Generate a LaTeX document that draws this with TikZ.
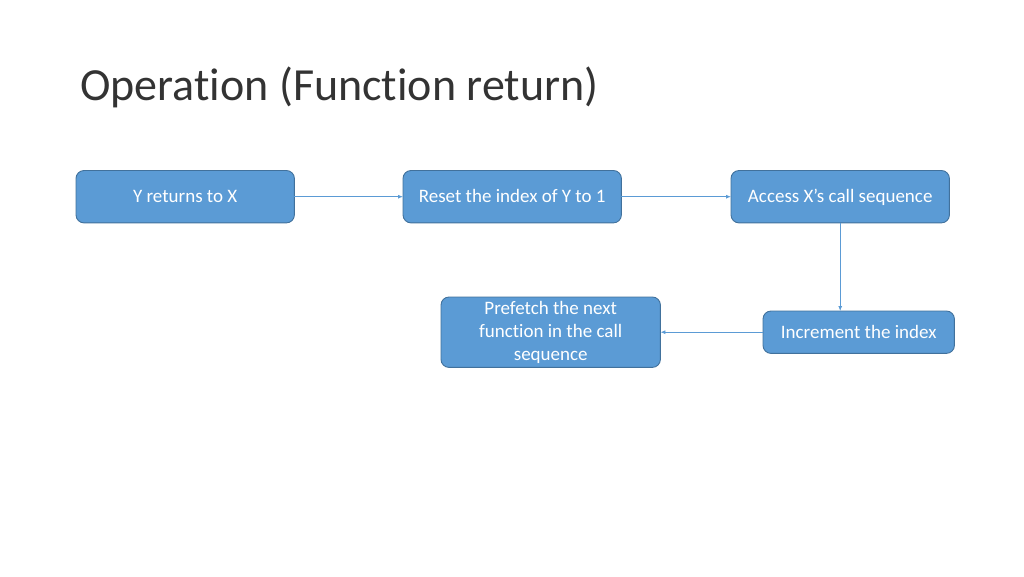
\documentclass[tikz,border=0pt]{standalone}
\usepackage{fontspec}
\setmainfont{Carlito}[RawFeature=-liga]
\usetikzlibrary{arrows.meta,backgrounds}
\begin{document}
\begin{tikzpicture}[x=1pt,y=1pt,
  box/.style={text=white, align=center, font=\fontsize{19}{23}\selectfont, inner sep=0pt, anchor=north west},
  boxshape/.style={draw=boxborder, fill=boxfill, rounded corners=8pt, line width=0.9pt},
  one/.style={text height=12.3pt, text depth=0pt},
  conn/.style={draw=boxfill, line width=0.8pt, -{Latex[length=5pt,width=4pt]}}]
\definecolor{boxfill}{HTML}{5B9BD5}
\definecolor{boxborder}{HTML}{41719C}
\useasboundingbox (0,0) rectangle (1024,-576);
\node[anchor=base west, font=\fontsize{46}{54}\selectfont, text=black!80, inner sep=0pt] (title) at (80,-100) {Operation (Function return)};
\node[box, one, minimum width=218pt, minimum height=52pt] (b1) at (76,-170.5) {Y returns to X};
\node[box, one, minimum width=218pt, minimum height=52pt] (b2) at (403,-170.5) {Reset the index of Y to 1};
\node[box, one, minimum width=218pt, minimum height=52pt] (b3) at (731,-170.5) {Access X’s call sequence};
\node[box, one, minimum width=191pt, minimum height=42pt] (b4) at (763,-311) {Increment the index};
\node[box, minimum width=219pt, minimum height=70pt] (b5) at (441,-297) {Prefetch the next\\function in the call\\sequence};
\begin{scope}[on background layer]
\foreach \n in {b1,b2,b3,b4,b5}
  \path[boxshape] (\n.north west) rectangle (\n.south east);
\end{scope}
\draw[conn] (b1) -- (b2);
\draw[conn] (b2) -- (b3);
\draw[conn] (b3.south) -- (b3.south |- b4.north);
\draw[conn] (b4) -- (b5);
\end{tikzpicture}
\end{document}
